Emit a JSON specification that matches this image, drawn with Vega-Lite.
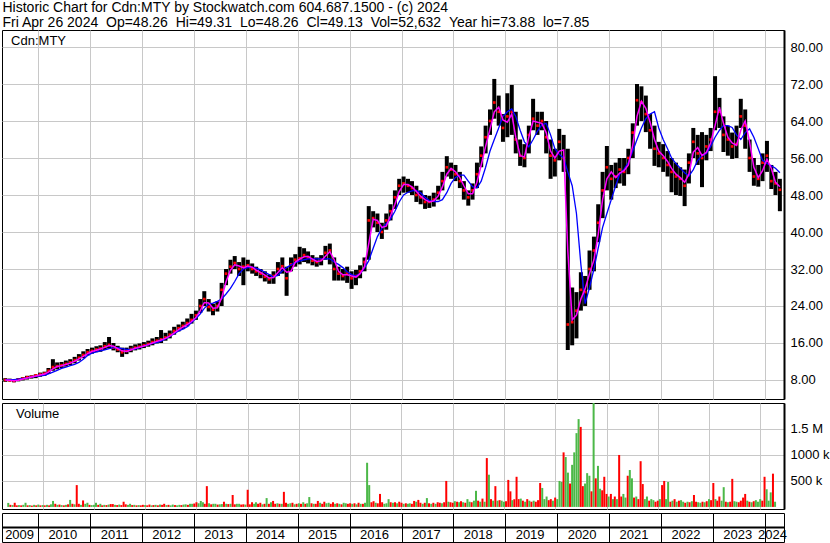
{
"$schema":"https://vega.github.io/schema/vega-lite/v6.json",
"padding":0,
"background":"white",
"config":{"font":"Liberation Sans","view":{"stroke":"black","strokeWidth":1},"axis":{"labelFont":"Liberation Sans"},"axisX":{"minExtent":0,"maxExtent":0}},
"title":{"text":["Historic Chart for Cdn:MTY by Stockwatch.com 604.687.1500 - (c) 2024","Fri Apr 26 2024 \u00a0Op=48.26 \u00a0Hi=49.31 \u00a0Lo=48.26 \u00a0Cl=49.13 \u00a0Vol=52,632 \u00a0Year hi=73.88 \u00a0lo=7.85"],"anchor":"start","frame":"bounds","fontSize":14,"fontWeight":"normal","lineHeight":15,"offset":0,"color":"black","dx":2},
"spacing":2,
"datasets":{
"px":[
{"d":"2009-05-15","h":8.4,"l":7.6,"c":8.0,"m":8.0,"b":8.1},
{"d":"2009-06-15","h":8.3,"l":7.7,"c":7.9,"m":7.95,"b":8.1},
{"d":"2009-07-15","h":8.2,"l":7.5,"c":7.8,"m":7.85,"b":8.1},
{"d":"2009-08-15","h":8.4,"l":7.7,"c":8.1,"m":7.95,"b":8.2},
{"d":"2009-09-15","h":8.6,"l":7.9,"c":8.3,"m":8.2,"b":8.3},
{"d":"2009-10-15","h":8.9,"l":8.1,"c":8.6,"m":8.45,"b":8.4},
{"d":"2009-11-15","h":9.0,"l":8.3,"c":8.7,"m":8.65,"b":8.6},
{"d":"2009-12-15","h":9.2,"l":8.4,"c":9.0,"m":8.85,"b":8.8},
{"d":"2010-01-15","h":9.6,"l":8.7,"c":9.2,"m":9.1,"b":8.9},
{"d":"2010-02-15","h":9.8,"l":8.9,"c":9.4,"m":9.3,"b":9.0},
{"d":"2010-03-15","h":10.6,"l":9.3,"c":10.0,"m":9.7,"b":9.3},
{"d":"2010-04-15","h":12.5,"l":10.0,"c":10.8,"m":10.4,"b":9.7},
{"d":"2010-05-15","h":11.8,"l":10.3,"c":11.0,"m":10.9,"b":10.1},
{"d":"2010-06-15","h":11.9,"l":10.6,"c":11.2,"m":11.1,"b":10.5},
{"d":"2010-07-15","h":12.2,"l":10.9,"c":11.5,"m":11.35,"b":10.8},
{"d":"2010-08-15","h":12.5,"l":11.2,"c":11.8,"m":11.65,"b":11.1},
{"d":"2010-09-15","h":13.0,"l":11.6,"c":12.3,"m":12.05,"b":11.4},
{"d":"2010-10-15","h":13.6,"l":12.2,"c":12.8,"m":12.55,"b":11.8},
{"d":"2010-11-15","h":14.2,"l":12.7,"c":13.4,"m":13.1,"b":12.5},
{"d":"2010-12-15","h":14.7,"l":13.3,"c":14.0,"m":13.7,"b":13.3},
{"d":"2011-01-15","h":15.0,"l":13.7,"c":14.3,"m":14.15,"b":13.8},
{"d":"2011-02-15","h":15.3,"l":14.0,"c":14.6,"m":14.45,"b":14.1},
{"d":"2011-03-15","h":15.5,"l":14.1,"c":14.8,"m":14.7,"b":14.3},
{"d":"2011-04-15","h":16.2,"l":14.5,"c":15.3,"m":15.05,"b":14.5},
{"d":"2011-05-15","h":17.3,"l":14.8,"c":15.6,"m":15.45,"b":14.8},
{"d":"2011-06-15","h":16.0,"l":14.4,"c":15.0,"m":15.3,"b":15.0},
{"d":"2011-07-15","h":15.4,"l":14.0,"c":14.6,"m":14.8,"b":15.0},
{"d":"2011-08-15","h":15.0,"l":13.0,"c":14.0,"m":14.3,"b":14.8},
{"d":"2011-09-15","h":15.0,"l":13.6,"c":14.3,"m":14.15,"b":14.6},
{"d":"2011-10-15","h":15.4,"l":14.0,"c":14.7,"m":14.5,"b":14.6},
{"d":"2011-11-15","h":15.7,"l":14.4,"c":15.0,"m":14.85,"b":14.7},
{"d":"2011-12-15","h":15.9,"l":14.6,"c":15.2,"m":15.1,"b":15.0},
{"d":"2012-01-15","h":16.2,"l":14.9,"c":15.5,"m":15.35,"b":15.3},
{"d":"2012-02-15","h":16.5,"l":15.2,"c":15.8,"m":15.65,"b":15.6},
{"d":"2012-03-15","h":17.0,"l":15.5,"c":16.2,"m":16.0,"b":15.9},
{"d":"2012-04-15","h":17.3,"l":15.9,"c":16.5,"m":16.35,"b":16.1},
{"d":"2012-05-15","h":18.8,"l":16.0,"c":16.8,"m":16.65,"b":16.4},
{"d":"2012-06-15","h":18.2,"l":16.5,"c":17.2,"m":17.0,"b":16.9},
{"d":"2012-07-15","h":18.7,"l":17.0,"c":17.8,"m":17.5,"b":17.4},
{"d":"2012-08-15","h":19.5,"l":17.8,"c":18.6,"m":18.2,"b":18.0},
{"d":"2012-09-15","h":20.0,"l":18.5,"c":19.2,"m":18.9,"b":18.6},
{"d":"2012-10-15","h":20.6,"l":19.0,"c":19.7,"m":19.45,"b":19.0},
{"d":"2012-11-15","h":21.3,"l":19.6,"c":20.3,"m":20.0,"b":19.5},
{"d":"2012-12-15","h":22.3,"l":20.2,"c":21.0,"m":20.65,"b":20.4},
{"d":"2013-01-15","h":23.0,"l":21.0,"c":22.0,"m":21.5,"b":21.3},
{"d":"2013-02-15","h":25.5,"l":22.5,"c":24.0,"m":23.0,"b":22.3},
{"d":"2013-03-15","h":27.2,"l":24.0,"c":25.5,"m":24.75,"b":23.5},
{"d":"2013-04-15","h":25.5,"l":22.8,"c":23.8,"m":24.65,"b":24.4},
{"d":"2013-05-15","h":24.5,"l":22.0,"c":23.2,"m":23.5,"b":24.6},
{"d":"2013-06-15","h":25.0,"l":22.8,"c":24.0,"m":23.6,"b":25.0},
{"d":"2013-07-15","h":29.0,"l":24.0,"c":27.5,"m":25.75,"b":25.5},
{"d":"2013-08-15","h":32.0,"l":28.5,"c":31.0,"m":29.25,"b":26.6},
{"d":"2013-09-15","h":34.0,"l":31.0,"c":32.5,"m":31.75,"b":27.8},
{"d":"2013-10-15","h":34.8,"l":32.0,"c":33.3,"m":32.9,"b":29.3},
{"d":"2013-11-15","h":33.5,"l":30.5,"c":32.0,"m":32.65,"b":31.0},
{"d":"2013-12-15","h":34.5,"l":28.5,"c":32.5,"m":32.25,"b":32.0},
{"d":"2014-01-15","h":34.0,"l":31.5,"c":32.8,"m":32.65,"b":32.3},
{"d":"2014-02-15","h":33.2,"l":31.0,"c":32.0,"m":32.4,"b":32.4},
{"d":"2014-03-15","h":32.5,"l":30.5,"c":31.5,"m":31.75,"b":32.2},
{"d":"2014-04-15","h":32.0,"l":30.0,"c":31.0,"m":31.25,"b":31.8},
{"d":"2014-05-15","h":31.5,"l":29.3,"c":30.3,"m":30.65,"b":31.3},
{"d":"2014-06-15","h":30.8,"l":28.8,"c":29.8,"m":30.05,"b":30.8},
{"d":"2014-07-15","h":31.5,"l":28.8,"c":30.5,"m":30.15,"b":30.3},
{"d":"2014-08-15","h":33.5,"l":30.5,"c":32.0,"m":31.25,"b":30.6},
{"d":"2014-09-15","h":34.5,"l":31.0,"c":32.6,"m":32.3,"b":31.6},
{"d":"2014-10-15","h":32.5,"l":26.2,"c":30.0,"m":31.3,"b":32.3},
{"d":"2014-11-15","h":34.5,"l":31.5,"c":33.0,"m":31.5,"b":32.9},
{"d":"2014-12-15","h":35.2,"l":32.5,"c":34.0,"m":33.5,"b":33.4},
{"d":"2015-01-15","h":36.8,"l":33.0,"c":34.3,"m":34.15,"b":33.7},
{"d":"2015-02-15","h":36.5,"l":33.5,"c":35.0,"m":34.65,"b":34.0},
{"d":"2015-03-15","h":35.8,"l":33.2,"c":34.5,"m":34.75,"b":34.2},
{"d":"2015-04-15","h":35.0,"l":32.8,"c":33.8,"m":34.15,"b":34.2},
{"d":"2015-05-15","h":34.5,"l":32.5,"c":33.5,"m":33.65,"b":34.2},
{"d":"2015-06-15","h":35.0,"l":32.8,"c":34.0,"m":33.75,"b":34.2},
{"d":"2015-07-15","h":37.0,"l":34.0,"c":35.5,"m":34.75,"b":34.2},
{"d":"2015-08-15","h":37.5,"l":33.0,"c":36.0,"m":35.75,"b":34.2},
{"d":"2015-09-15","h":34.5,"l":29.5,"c":32.0,"m":34.0,"b":33.5},
{"d":"2015-10-15","h":32.5,"l":29.5,"c":31.0,"m":31.5,"b":33.0},
{"d":"2015-11-15","h":32.0,"l":29.5,"c":30.5,"m":30.75,"b":32.3},
{"d":"2015-12-15","h":32.5,"l":29.0,"c":31.0,"m":30.75,"b":31.4},
{"d":"2016-01-15","h":31.5,"l":27.7,"c":30.0,"m":30.5,"b":30.8},
{"d":"2016-02-15","h":31.8,"l":28.5,"c":30.5,"m":30.25,"b":30.5},
{"d":"2016-03-15","h":32.8,"l":30.0,"c":31.5,"m":31.0,"b":31.0},
{"d":"2016-04-15","h":34.5,"l":31.5,"c":33.5,"m":32.5,"b":32.2},
{"d":"2016-05-15","h":45.6,"l":34.0,"c":42.5,"m":37.5,"b":33.8},
{"d":"2016-06-15","h":44.5,"l":41.0,"c":43.0,"m":42.75,"b":36.5},
{"d":"2016-07-15","h":44.0,"l":40.0,"c":42.0,"m":42.5,"b":39.0},
{"d":"2016-08-15","h":42.0,"l":38.5,"c":40.0,"m":41.0,"b":40.8},
{"d":"2016-09-15","h":44.0,"l":40.5,"c":42.5,"m":41.25,"b":41.8},
{"d":"2016-10-15","h":46.0,"l":42.5,"c":44.5,"m":43.5,"b":42.8},
{"d":"2016-11-15","h":49.0,"l":45.0,"c":47.5,"m":46.0,"b":44.5},
{"d":"2016-12-15","h":51.5,"l":48.0,"c":50.0,"m":48.75,"b":46.5},
{"d":"2017-01-15","h":52.0,"l":48.5,"c":50.5,"m":50.25,"b":48.0},
{"d":"2017-02-15","h":51.5,"l":48.5,"c":50.0,"m":50.25,"b":48.6},
{"d":"2017-03-15","h":51.0,"l":48.0,"c":49.5,"m":49.75,"b":48.9},
{"d":"2017-04-15","h":50.0,"l":46.5,"c":48.0,"m":48.75,"b":49.0},
{"d":"2017-05-15","h":49.0,"l":46.0,"c":47.5,"m":47.75,"b":48.5},
{"d":"2017-06-15","h":48.0,"l":45.0,"c":46.5,"m":47.0,"b":47.5},
{"d":"2017-07-15","h":47.8,"l":45.2,"c":46.5,"m":46.5,"b":46.8},
{"d":"2017-08-15","h":48.5,"l":45.5,"c":47.0,"m":46.75,"b":46.6},
{"d":"2017-09-15","h":50.0,"l":47.0,"c":48.5,"m":47.75,"b":46.6},
{"d":"2017-10-15","h":53.0,"l":49.0,"c":51.0,"m":49.75,"b":47.0},
{"d":"2017-11-15","h":56.4,"l":52.0,"c":54.0,"m":52.5,"b":48.5},
{"d":"2017-12-15","h":55.0,"l":51.5,"c":53.5,"m":53.75,"b":50.5},
{"d":"2018-01-15","h":54.5,"l":51.0,"c":52.5,"m":53.0,"b":51.8},
{"d":"2018-02-15","h":53.0,"l":49.5,"c":51.0,"m":51.75,"b":52.3},
{"d":"2018-03-15","h":51.0,"l":47.0,"c":49.0,"m":50.0,"b":52.3},
{"d":"2018-04-15","h":49.0,"l":45.7,"c":47.5,"m":48.25,"b":51.0},
{"d":"2018-05-15","h":50.5,"l":47.0,"c":49.0,"m":48.25,"b":49.8},
{"d":"2018-06-15","h":55.0,"l":49.5,"c":52.5,"m":50.75,"b":49.5},
{"d":"2018-07-15","h":58.5,"l":54.0,"c":56.5,"m":54.5,"b":51.0},
{"d":"2018-08-15","h":63.0,"l":57.0,"c":60.5,"m":58.5,"b":54.0},
{"d":"2018-09-15","h":66.5,"l":61.0,"c":64.0,"m":62.25,"b":57.5},
{"d":"2018-10-15","h":73.1,"l":64.5,"c":68.0,"m":66.0,"b":60.0},
{"d":"2018-11-15","h":69.5,"l":63.0,"c":66.0,"m":67.0,"b":62.5},
{"d":"2018-12-15","h":65.5,"l":59.5,"c":62.5,"m":64.25,"b":65.0},
{"d":"2019-01-15","h":70.0,"l":60.5,"c":65.0,"m":63.75,"b":66.0},
{"d":"2019-02-15","h":71.8,"l":61.0,"c":66.0,"m":65.5,"b":66.6},
{"d":"2019-03-15","h":66.0,"l":57.0,"c":60.0,"m":60.5,"b":65.0},
{"d":"2019-04-15","h":60.0,"l":54.3,"c":56.5,"m":56.5,"b":62.0},
{"d":"2019-05-15","h":59.0,"l":54.0,"c":56.0,"m":56.25,"b":59.5},
{"d":"2019-06-15","h":63.0,"l":57.0,"c":61.0,"m":60.5,"b":58.4},
{"d":"2019-07-15","h":68.8,"l":62.0,"c":64.5,"m":64.0,"b":60.0},
{"d":"2019-08-15","h":66.0,"l":61.0,"c":63.0,"m":63.75,"b":61.8},
{"d":"2019-09-15","h":66.0,"l":62.0,"c":64.0,"m":63.5,"b":63.2},
{"d":"2019-10-15","h":64.0,"l":57.0,"c":60.5,"m":61.5,"b":63.5},
{"d":"2019-11-15","h":60.0,"l":51.5,"c":56.5,"m":57.5,"b":61.0},
{"d":"2019-12-15","h":58.0,"l":52.0,"c":55.5,"m":56.0,"b":58.0},
{"d":"2020-01-15","h":62.3,"l":55.5,"c":59.5,"m":57.5,"b":56.8},
{"d":"2020-02-15","h":61.0,"l":53.0,"c":56.0,"m":57.75,"b":56.0},
{"d":"2020-03-15","h":58.0,"l":14.5,"c":20.0,"m":36.0,"b":53.0},
{"d":"2020-04-15","h":28.0,"l":15.5,"c":20.5,"m":21.0,"b":50.0},
{"d":"2020-05-15","h":27.0,"l":17.0,"c":23.0,"m":22.0,"b":44.0},
{"d":"2020-06-15","h":31.3,"l":23.0,"c":27.5,"m":25.5,"b":33.0},
{"d":"2020-07-15","h":30.5,"l":24.0,"c":27.0,"m":27.7,"b":24.5},
{"d":"2020-08-15","h":36.0,"l":27.5,"c":32.0,"m":31.0,"b":28.0},
{"d":"2020-09-15","h":39.0,"l":31.5,"c":36.0,"m":34.0,"b":32.0},
{"d":"2020-10-15","h":46.0,"l":37.8,"c":42.0,"m":39.5,"b":36.5},
{"d":"2020-11-15","h":53.0,"l":43.0,"c":49.0,"m":47.0,"b":41.0},
{"d":"2020-12-15","h":58.6,"l":49.0,"c":54.0,"m":51.5,"b":44.0},
{"d":"2021-01-15","h":54.5,"l":47.0,"c":51.5,"m":53.0,"b":47.0},
{"d":"2021-02-15","h":55.0,"l":49.5,"c":52.0,"m":51.75,"b":50.0},
{"d":"2021-03-15","h":56.0,"l":50.5,"c":53.5,"m":52.75,"b":52.5},
{"d":"2021-04-15","h":56.0,"l":50.0,"c":53.0,"m":53.25,"b":53.6},
{"d":"2021-05-15","h":58.0,"l":52.5,"c":56.0,"m":54.5,"b":55.0},
{"d":"2021-06-15","h":63.5,"l":56.0,"c":61.5,"m":58.75,"b":57.5},
{"d":"2021-07-15","h":72.0,"l":63.0,"c":68.5,"m":65.0,"b":60.0},
{"d":"2021-08-15","h":71.5,"l":64.0,"c":68.0,"m":68.25,"b":62.5},
{"d":"2021-09-15","h":69.5,"l":61.6,"c":65.5,"m":66.75,"b":64.5},
{"d":"2021-10-15","h":65.5,"l":58.0,"c":62.0,"m":63.75,"b":65.5},
{"d":"2021-11-15","h":63.0,"l":54.3,"c":58.0,"m":60.0,"b":66.0},
{"d":"2021-12-15","h":59.5,"l":54.0,"c":57.0,"m":57.5,"b":62.5},
{"d":"2022-01-15","h":59.0,"l":53.0,"c":56.0,"m":56.5,"b":60.0},
{"d":"2022-02-15","h":57.5,"l":52.0,"c":54.5,"m":55.25,"b":58.0},
{"d":"2022-03-15","h":56.0,"l":48.6,"c":53.0,"m":53.75,"b":56.0},
{"d":"2022-04-15","h":55.0,"l":48.0,"c":52.0,"m":52.5,"b":54.8},
{"d":"2022-05-15","h":54.0,"l":47.8,"c":51.5,"m":51.75,"b":53.8},
{"d":"2022-06-15","h":53.5,"l":45.6,"c":50.0,"m":50.75,"b":52.8},
{"d":"2022-07-15","h":57.0,"l":50.5,"c":55.0,"m":52.5,"b":52.1},
{"d":"2022-08-15","h":62.5,"l":56.0,"c":59.5,"m":57.25,"b":53.5},
{"d":"2022-09-15","h":61.0,"l":54.5,"c":57.0,"m":58.25,"b":55.5},
{"d":"2022-10-15","h":61.6,"l":49.7,"c":56.0,"m":56.5,"b":56.5},
{"d":"2022-11-15","h":61.0,"l":55.5,"c":58.5,"m":57.25,"b":57.0},
{"d":"2022-12-15","h":62.5,"l":57.5,"c":60.0,"m":59.25,"b":58.5},
{"d":"2023-01-15","h":73.7,"l":62.0,"c":66.0,"m":63.0,"b":60.5},
{"d":"2023-02-15","h":69.0,"l":62.5,"c":66.0,"m":67.0,"b":62.0},
{"d":"2023-03-15","h":65.0,"l":57.3,"c":61.0,"m":63.5,"b":63.0},
{"d":"2023-04-15","h":63.0,"l":56.5,"c":60.0,"m":60.5,"b":63.0},
{"d":"2023-05-15","h":61.5,"l":55.8,"c":58.5,"m":59.25,"b":62.6},
{"d":"2023-06-15","h":63.0,"l":56.0,"c":59.0,"m":58.75,"b":61.0},
{"d":"2023-07-15","h":68.8,"l":62.5,"c":65.0,"m":62.0,"b":60.0},
{"d":"2023-08-15","h":66.5,"l":58.0,"c":63.0,"m":64.0,"b":61.5},
{"d":"2023-09-15","h":60.0,"l":53.0,"c":56.0,"m":59.5,"b":62.3},
{"d":"2023-10-15","h":56.0,"l":50.0,"c":52.0,"m":54.0,"b":60.5},
{"d":"2023-11-15","h":54.5,"l":49.8,"c":51.5,"m":51.75,"b":58.0},
{"d":"2023-12-15","h":57.0,"l":51.0,"c":55.0,"m":53.25,"b":55.5},
{"d":"2024-01-15","h":59.7,"l":53.0,"c":56.5,"m":55.75,"b":54.8},
{"d":"2024-02-15","h":54.5,"l":49.3,"c":51.0,"m":53.75,"b":54.3},
{"d":"2024-03-15","h":53.0,"l":48.0,"c":50.5,"m":50.75,"b":53.8},
{"d":"2024-04-15","h":51.5,"l":44.5,"c":49.13,"m":49.8,"b":52.8}
],
"vol":[
{"d":"2009-05-01","v":77,"u":"up"},{"d":"2009-05-16","v":40,"u":"dn"},{"d":"2009-06-01","v":35,"u":"up"},{"d":"2009-06-16","v":80,"u":"dn"},
{"d":"2009-07-01","v":30,"u":"dn"},{"d":"2009-07-16","v":35,"u":"up"},{"d":"2009-08-01","v":30,"u":"dn"},{"d":"2009-08-16","v":40,"u":"up"},
{"d":"2009-09-01","v":80,"u":"up"},{"d":"2009-09-16","v":30,"u":"dn"},{"d":"2009-10-01","v":35,"u":"up"},{"d":"2009-10-16","v":25,"u":"dn"},
{"d":"2009-11-01","v":40,"u":"up"},{"d":"2009-11-16","v":30,"u":"dn"},{"d":"2009-12-01","v":45,"u":"up"},{"d":"2009-12-16","v":30,"u":"dn"},
{"d":"2010-01-01","v":35,"u":"up"},{"d":"2010-01-16","v":30,"u":"dn"},{"d":"2010-02-01","v":40,"u":"up"},{"d":"2010-02-16","v":30,"u":"dn"},
{"d":"2010-03-01","v":50,"u":"up"},{"d":"2010-03-16","v":115,"u":"up"},{"d":"2010-04-01","v":60,"u":"dn"},{"d":"2010-04-16","v":40,"u":"up"},
{"d":"2010-05-01","v":45,"u":"dn"},{"d":"2010-05-16","v":35,"u":"up"},{"d":"2010-06-01","v":30,"u":"dn"},{"d":"2010-06-16","v":40,"u":"up"},
{"d":"2010-07-01","v":50,"u":"dn"},{"d":"2010-07-16","v":135,"u":"up"},{"d":"2010-08-01","v":60,"u":"dn"},{"d":"2010-08-16","v":50,"u":"up"},
{"d":"2010-09-01","v":420,"u":"dn"},{"d":"2010-09-16","v":60,"u":"dn"},{"d":"2010-10-01","v":40,"u":"up"},{"d":"2010-10-16","v":125,"u":"dn"},
{"d":"2010-11-01","v":60,"u":"up"},{"d":"2010-11-16","v":80,"u":"up"},{"d":"2010-12-01","v":40,"u":"dn"},{"d":"2010-12-16","v":35,"u":"up"},
{"d":"2011-01-01","v":40,"u":"up"},{"d":"2011-01-16","v":80,"u":"up"},{"d":"2011-02-01","v":40,"u":"dn"},{"d":"2011-02-16","v":60,"u":"up"},
{"d":"2011-03-01","v":30,"u":"dn"},{"d":"2011-03-16","v":40,"u":"up"},{"d":"2011-04-01","v":35,"u":"dn"},{"d":"2011-04-16","v":45,"u":"up"},
{"d":"2011-05-01","v":55,"u":"dn"},{"d":"2011-05-16","v":55,"u":"dn"},{"d":"2011-06-01","v":40,"u":"up"},{"d":"2011-06-16","v":35,"u":"dn"},
{"d":"2011-07-01","v":45,"u":"up"},{"d":"2011-07-16","v":35,"u":"dn"},{"d":"2011-08-01","v":100,"u":"dn"},{"d":"2011-08-16","v":50,"u":"dn"},
{"d":"2011-09-01","v":40,"u":"up"},{"d":"2011-09-16","v":60,"u":"up"},{"d":"2011-10-01","v":35,"u":"dn"},{"d":"2011-10-16","v":40,"u":"up"},
{"d":"2011-11-01","v":30,"u":"dn"},{"d":"2011-11-16","v":35,"u":"up"},{"d":"2011-12-01","v":30,"u":"dn"},{"d":"2011-12-16","v":40,"u":"dn"},
{"d":"2012-01-01","v":35,"u":"up"},{"d":"2012-01-16","v":30,"u":"dn"},{"d":"2012-02-01","v":45,"u":"dn"},{"d":"2012-02-16","v":30,"u":"up"},
{"d":"2012-03-01","v":35,"u":"dn"},{"d":"2012-03-16","v":40,"u":"up"},{"d":"2012-04-01","v":30,"u":"dn"},{"d":"2012-04-16","v":45,"u":"up"},
{"d":"2012-05-01","v":40,"u":"dn"},{"d":"2012-05-16","v":60,"u":"dn"},{"d":"2012-06-01","v":35,"u":"up"},{"d":"2012-06-16","v":40,"u":"dn"},
{"d":"2012-07-01","v":30,"u":"up"},{"d":"2012-07-16","v":45,"u":"up"},{"d":"2012-08-01","v":35,"u":"dn"},{"d":"2012-08-16","v":30,"u":"up"},
{"d":"2012-09-01","v":40,"u":"up"},{"d":"2012-09-16","v":35,"u":"dn"},{"d":"2012-10-01","v":45,"u":"up"},{"d":"2012-10-16","v":50,"u":"up"},
{"d":"2012-11-01","v":40,"u":"dn"},{"d":"2012-11-16","v":60,"u":"up"},{"d":"2012-12-01","v":60,"u":"up"},{"d":"2012-12-16","v":65,"u":"dn"},
{"d":"2013-01-01","v":90,"u":"dn"},{"d":"2013-01-16","v":70,"u":"up"},{"d":"2013-02-01","v":115,"u":"up"},{"d":"2013-02-16","v":90,"u":"up"},
{"d":"2013-03-01","v":60,"u":"dn"},{"d":"2013-03-16","v":400,"u":"dn"},{"d":"2013-04-01","v":70,"u":"up"},{"d":"2013-04-16","v":50,"u":"dn"},
{"d":"2013-05-01","v":60,"u":"up"},{"d":"2013-05-16","v":60,"u":"up"},{"d":"2013-06-01","v":45,"u":"dn"},{"d":"2013-06-16","v":50,"u":"up"},
{"d":"2013-07-01","v":55,"u":"up"},{"d":"2013-07-16","v":100,"u":"dn"},{"d":"2013-08-01","v":60,"u":"up"},{"d":"2013-08-16","v":55,"u":"dn"},
{"d":"2013-09-01","v":60,"u":"up"},{"d":"2013-09-16","v":230,"u":"dn"},{"d":"2013-10-01","v":50,"u":"dn"},{"d":"2013-10-16","v":60,"u":"up"},
{"d":"2013-11-01","v":60,"u":"up"},{"d":"2013-11-16","v":45,"u":"dn"},{"d":"2013-12-01","v":50,"u":"dn"},{"d":"2013-12-16","v":45,"u":"up"},
{"d":"2014-01-01","v":330,"u":"dn"},{"d":"2014-01-16","v":50,"u":"dn"},{"d":"2014-02-01","v":90,"u":"dn"},{"d":"2014-02-16","v":60,"u":"up"},
{"d":"2014-03-01","v":90,"u":"up"},{"d":"2014-03-16","v":60,"u":"dn"},{"d":"2014-04-01","v":80,"u":"dn"},{"d":"2014-04-16","v":50,"u":"up"},
{"d":"2014-05-01","v":60,"u":"dn"},{"d":"2014-05-16","v":170,"u":"up"},{"d":"2014-06-01","v":60,"u":"dn"},{"d":"2014-06-16","v":90,"u":"up"},
{"d":"2014-07-01","v":115,"u":"dn"},{"d":"2014-07-16","v":60,"u":"dn"},{"d":"2014-08-01","v":70,"u":"up"},{"d":"2014-08-16","v":60,"u":"dn"},
{"d":"2014-09-01","v":60,"u":"up"},{"d":"2014-09-16","v":290,"u":"dn"},{"d":"2014-10-01","v":80,"u":"dn"},{"d":"2014-10-16","v":60,"u":"up"},
{"d":"2014-11-01","v":70,"u":"up"},{"d":"2014-11-16","v":80,"u":"dn"},{"d":"2014-12-01","v":50,"u":"up"},{"d":"2014-12-16","v":60,"u":"dn"},
{"d":"2015-01-01","v":70,"u":"up"},{"d":"2015-01-16","v":60,"u":"dn"},{"d":"2015-02-01","v":90,"u":"up"},{"d":"2015-02-16","v":60,"u":"dn"},
{"d":"2015-03-01","v":70,"u":"up"},{"d":"2015-03-16","v":190,"u":"up"},{"d":"2015-04-01","v":70,"u":"dn"},{"d":"2015-04-16","v":60,"u":"up"},
{"d":"2015-05-01","v":60,"u":"dn"},{"d":"2015-05-16","v":115,"u":"dn"},{"d":"2015-06-01","v":80,"u":"up"},{"d":"2015-06-16","v":60,"u":"dn"},
{"d":"2015-07-01","v":100,"u":"dn"},{"d":"2015-07-16","v":70,"u":"up"},{"d":"2015-08-01","v":80,"u":"up"},{"d":"2015-08-16","v":60,"u":"dn"},
{"d":"2015-09-01","v":90,"u":"dn"},{"d":"2015-09-16","v":60,"u":"up"},{"d":"2015-10-01","v":70,"u":"dn"},{"d":"2015-10-16","v":60,"u":"up"},
{"d":"2015-11-01","v":50,"u":"dn"},{"d":"2015-11-16","v":80,"u":"up"},{"d":"2015-12-01","v":70,"u":"up"},{"d":"2015-12-16","v":60,"u":"dn"},
{"d":"2016-01-01","v":70,"u":"dn"},{"d":"2016-01-16","v":60,"u":"up"},{"d":"2016-02-01","v":70,"u":"dn"},{"d":"2016-02-16","v":50,"u":"up"},
{"d":"2016-03-01","v":80,"u":"dn"},{"d":"2016-03-16","v":60,"u":"up"},{"d":"2016-04-01","v":60,"u":"dn"},{"d":"2016-04-16","v":80,"u":"up"},
{"d":"2016-05-01","v":850,"u":"up"},{"d":"2016-05-16","v":420,"u":"up"},{"d":"2016-06-01","v":90,"u":"dn"},{"d":"2016-06-16","v":110,"u":"dn"},
{"d":"2016-07-01","v":80,"u":"up"},{"d":"2016-07-16","v":70,"u":"dn"},{"d":"2016-08-01","v":250,"u":"dn"},{"d":"2016-08-16","v":90,"u":"dn"},
{"d":"2016-09-01","v":60,"u":"up"},{"d":"2016-09-16","v":70,"u":"up"},{"d":"2016-10-01","v":150,"u":"up"},{"d":"2016-10-16","v":90,"u":"dn"},
{"d":"2016-11-01","v":80,"u":"up"},{"d":"2016-11-16","v":90,"u":"dn"},{"d":"2016-12-01","v":70,"u":"up"},{"d":"2016-12-16","v":100,"u":"dn"},
{"d":"2017-01-01","v":80,"u":"dn"},{"d":"2017-01-16","v":60,"u":"up"},{"d":"2017-02-01","v":70,"u":"dn"},{"d":"2017-02-16","v":60,"u":"up"},
{"d":"2017-03-01","v":70,"u":"up"},{"d":"2017-03-16","v":60,"u":"dn"},{"d":"2017-04-01","v":115,"u":"dn"},{"d":"2017-04-16","v":100,"u":"up"},
{"d":"2017-05-01","v":135,"u":"dn"},{"d":"2017-05-16","v":80,"u":"dn"},{"d":"2017-06-01","v":60,"u":"up"},{"d":"2017-06-16","v":80,"u":"dn"},
{"d":"2017-07-01","v":170,"u":"up"},{"d":"2017-07-16","v":70,"u":"dn"},{"d":"2017-08-01","v":60,"u":"up"},{"d":"2017-08-16","v":80,"u":"dn"},
{"d":"2017-09-01","v":60,"u":"up"},{"d":"2017-09-16","v":90,"u":"dn"},{"d":"2017-10-01","v":80,"u":"dn"},{"d":"2017-10-16","v":70,"u":"up"},
{"d":"2017-11-01","v":90,"u":"dn"},{"d":"2017-11-16","v":500,"u":"dn"},{"d":"2017-12-01","v":100,"u":"up"},{"d":"2017-12-16","v":90,"u":"dn"},
{"d":"2018-01-01","v":80,"u":"dn"},{"d":"2018-01-16","v":110,"u":"up"},{"d":"2018-02-01","v":100,"u":"dn"},{"d":"2018-02-16","v":90,"u":"up"},
{"d":"2018-03-01","v":110,"u":"dn"},{"d":"2018-03-16","v":90,"u":"up"},{"d":"2018-04-01","v":80,"u":"dn"},{"d":"2018-04-16","v":150,"u":"up"},
{"d":"2018-05-01","v":100,"u":"up"},{"d":"2018-05-16","v":90,"u":"dn"},{"d":"2018-06-01","v":120,"u":"up"},{"d":"2018-06-16","v":310,"u":"up"},
{"d":"2018-07-01","v":120,"u":"dn"},{"d":"2018-07-16","v":100,"u":"up"},{"d":"2018-08-01","v":160,"u":"dn"},{"d":"2018-08-16","v":100,"u":"up"},
{"d":"2018-09-01","v":940,"u":"dn"},{"d":"2018-09-16","v":620,"u":"up"},{"d":"2018-10-01","v":150,"u":"dn"},{"d":"2018-10-16","v":120,"u":"up"},
{"d":"2018-11-01","v":400,"u":"dn"},{"d":"2018-11-16","v":120,"u":"up"},{"d":"2018-12-01","v":130,"u":"dn"},{"d":"2018-12-16","v":120,"u":"up"},
{"d":"2019-01-01","v":100,"u":"up"},{"d":"2019-01-16","v":110,"u":"dn"},{"d":"2019-02-01","v":520,"u":"dn"},{"d":"2019-02-16","v":300,"u":"dn"},
{"d":"2019-03-01","v":130,"u":"up"},{"d":"2019-03-16","v":150,"u":"dn"},{"d":"2019-04-01","v":580,"u":"dn"},{"d":"2019-04-16","v":150,"u":"dn"},
{"d":"2019-05-01","v":160,"u":"up"},{"d":"2019-05-16","v":120,"u":"dn"},{"d":"2019-06-01","v":100,"u":"up"},{"d":"2019-06-16","v":150,"u":"dn"},
{"d":"2019-07-01","v":120,"u":"up"},{"d":"2019-07-16","v":100,"u":"dn"},{"d":"2019-08-01","v":120,"u":"up"},{"d":"2019-08-16","v":100,"u":"dn"},
{"d":"2019-09-01","v":130,"u":"dn"},{"d":"2019-09-16","v":460,"u":"dn"},{"d":"2019-10-01","v":365,"u":"up"},{"d":"2019-10-16","v":150,"u":"up"},
{"d":"2019-11-01","v":200,"u":"up"},{"d":"2019-11-16","v":130,"u":"dn"},{"d":"2019-12-01","v":150,"u":"dn"},{"d":"2019-12-16","v":120,"u":"up"},
{"d":"2020-01-01","v":180,"u":"dn"},{"d":"2020-01-16","v":150,"u":"up"},{"d":"2020-02-01","v":500,"u":"up"},{"d":"2020-02-16","v":480,"u":"up"},
{"d":"2020-03-01","v":1050,"u":"dn"},{"d":"2020-03-16","v":960,"u":"up"},{"d":"2020-04-01","v":660,"u":"up"},{"d":"2020-04-16","v":450,"u":"dn"},
{"d":"2020-05-01","v":810,"u":"up"},{"d":"2020-05-16","v":1050,"u":"up"},{"d":"2020-06-01","v":1420,"u":"up"},{"d":"2020-06-16","v":1690,"u":"up"},
{"d":"2020-07-01","v":1540,"u":"dn"},{"d":"2020-07-16","v":400,"u":"dn"},{"d":"2020-08-01","v":450,"u":"up"},{"d":"2020-08-16","v":650,"u":"up"},
{"d":"2020-09-01","v":600,"u":"up"},{"d":"2020-09-16","v":300,"u":"dn"},{"d":"2020-10-01","v":2000,"u":"up"},{"d":"2020-10-16","v":550,"u":"dn"},
{"d":"2020-11-01","v":790,"u":"up"},{"d":"2020-11-16","v":350,"u":"up"},{"d":"2020-12-01","v":320,"u":"dn"},{"d":"2020-12-16","v":580,"u":"dn"},
{"d":"2021-01-01","v":250,"u":"dn"},{"d":"2021-01-16","v":200,"u":"up"},{"d":"2021-02-01","v":250,"u":"dn"},{"d":"2021-02-16","v":150,"u":"up"},
{"d":"2021-03-01","v":200,"u":"dn"},{"d":"2021-03-16","v":150,"u":"up"},{"d":"2021-04-01","v":1000,"u":"dn"},{"d":"2021-04-16","v":200,"u":"dn"},
{"d":"2021-05-01","v":250,"u":"up"},{"d":"2021-05-16","v":180,"u":"up"},{"d":"2021-06-01","v":600,"u":"dn"},{"d":"2021-06-16","v":710,"u":"up"},
{"d":"2021-07-01","v":550,"u":"up"},{"d":"2021-07-16","v":180,"u":"dn"},{"d":"2021-08-01","v":200,"u":"up"},{"d":"2021-08-16","v":150,"u":"dn"},
{"d":"2021-09-01","v":880,"u":"dn"},{"d":"2021-09-16","v":440,"u":"dn"},{"d":"2021-10-01","v":150,"u":"up"},{"d":"2021-10-16","v":200,"u":"up"},
{"d":"2021-11-01","v":120,"u":"dn"},{"d":"2021-11-16","v":150,"u":"up"},{"d":"2021-12-01","v":130,"u":"up"},{"d":"2021-12-16","v":100,"u":"dn"},
{"d":"2022-01-01","v":120,"u":"dn"},{"d":"2022-01-16","v":150,"u":"up"},{"d":"2022-02-01","v":420,"u":"dn"},{"d":"2022-02-16","v":500,"u":"dn"},
{"d":"2022-03-01","v":150,"u":"up"},{"d":"2022-03-16","v":480,"u":"up"},{"d":"2022-04-01","v":100,"u":"dn"},{"d":"2022-04-16","v":120,"u":"up"},
{"d":"2022-05-01","v":150,"u":"dn"},{"d":"2022-05-16","v":100,"u":"up"},{"d":"2022-06-01","v":120,"u":"dn"},{"d":"2022-06-16","v":130,"u":"up"},
{"d":"2022-07-01","v":100,"u":"up"},{"d":"2022-07-16","v":80,"u":"dn"},{"d":"2022-08-01","v":100,"u":"up"},{"d":"2022-08-16","v":90,"u":"dn"},
{"d":"2022-09-01","v":110,"u":"up"},{"d":"2022-09-16","v":230,"u":"dn"},{"d":"2022-10-01","v":100,"u":"dn"},{"d":"2022-10-16","v":90,"u":"up"},
{"d":"2022-11-01","v":80,"u":"up"},{"d":"2022-11-16","v":100,"u":"dn"},{"d":"2022-12-01","v":90,"u":"up"},{"d":"2022-12-16","v":110,"u":"dn"},
{"d":"2023-01-01","v":150,"u":"up"},{"d":"2023-01-16","v":130,"u":"dn"},{"d":"2023-02-01","v":460,"u":"dn"},{"d":"2023-02-16","v":150,"u":"up"},
{"d":"2023-03-01","v":120,"u":"dn"},{"d":"2023-03-16","v":200,"u":"dn"},{"d":"2023-04-01","v":120,"u":"up"},{"d":"2023-04-16","v":380,"u":"up"},
{"d":"2023-05-01","v":100,"u":"dn"},{"d":"2023-05-16","v":90,"u":"up"},{"d":"2023-06-01","v":100,"u":"dn"},{"d":"2023-06-16","v":540,"u":"dn"},
{"d":"2023-07-01","v":110,"u":"up"},{"d":"2023-07-16","v":100,"u":"up"},{"d":"2023-08-01","v":90,"u":"dn"},{"d":"2023-08-16","v":120,"u":"dn"},
{"d":"2023-09-01","v":180,"u":"dn"},{"d":"2023-09-16","v":250,"u":"dn"},{"d":"2023-10-01","v":120,"u":"up"},{"d":"2023-10-16","v":100,"u":"dn"},
{"d":"2023-11-01","v":90,"u":"up"},{"d":"2023-11-16","v":110,"u":"dn"},{"d":"2023-12-01","v":130,"u":"up"},{"d":"2023-12-16","v":100,"u":"up"},
{"d":"2024-01-01","v":150,"u":"up"},{"d":"2024-01-16","v":120,"u":"dn"},{"d":"2024-02-01","v":580,"u":"dn"},{"d":"2024-02-16","v":340,"u":"up"},
{"d":"2024-03-01","v":120,"u":"up"},{"d":"2024-03-16","v":280,"u":"up"},{"d":"2024-04-01","v":640,"u":"dn"},{"d":"2024-04-16","v":100,"u":"up"}
]
},
"vconcat":[
{
"width":782,"height":369,
"data":{"name":"px"},
"layer":[
{"mark":{"type":"rule","strokeWidth":4,"color":"black","strokeCap":"butt"},
 "encoding":{
  "x":{"field":"d","type":"temporal","title":null,"scale":{"type":"utc","domain":[{"year":2009,"month":4,"date":22,"utc":true},{"year":2024,"month":5,"date":14,"utc":true}]},
       "axis":{"grid":true,"gridColor":"#c8c8c8","gridWidth":1,"labels":false,"ticks":false,"domain":false,"title":null,"tickCount":{"interval":"year","step":1}}},
  "y":{"field":"l","type":"quantitative","title":null,"scale":{"domain":[3.89,83.68],"nice":false,"zero":false},
       "axis":{"orient":"right","values":[8,12,16,20,24,28,32,36,40,44,48,52,56,60,64,68,72,76,80],"format":".2f","grid":true,"gridColor":"#c8c8c8","gridWidth":1,"ticks":false,"domain":true,"domainColor":"black","domainWidth":2,"labelFontSize":13,"labelColor":"black","labelPadding":6,"title":null}},
  "y2":{"field":"h"}}},
{"mark":{"type":"point","shape":"square","filled":true,"size":7,"color":"#ff0000","opacity":1},
 "encoding":{"x":{"field":"d","type":"temporal","title":null},"y":{"field":"c","type":"quantitative","title":null}}},
{"mark":{"type":"line","color":"#0000ff","strokeWidth":1.3},
 "encoding":{"x":{"field":"d","type":"temporal","title":null},"y":{"field":"b","type":"quantitative","title":null}}},
{"mark":{"type":"line","color":"#ff00ff","strokeWidth":1.5},
 "encoding":{"x":{"field":"d","type":"temporal","title":null},"y":{"field":"m","type":"quantitative","title":null}}},
{"data":{"values":[{"t":"Cdn:MTY"}]},
 "mark":{"type":"text","align":"left","baseline":"middle","fontSize":13,"color":"black"},
 "encoding":{"x":{"datum":{"year":2009,"month":6,"date":25,"utc":true},"type":"temporal"},"y":{"datum":81.3,"type":"quantitative"},"text":{"field":"t"}}}
]
},
{
"width":782,"height":106,
"data":{"name":"vol"},
"layer":[
{"mark":{"type":"bar","width":2},
 "encoding":{
  "x":{"field":"d","type":"temporal","title":null,"scale":{"type":"utc","domain":[{"year":2009,"month":4,"date":22,"utc":true},{"year":2024,"month":5,"date":14,"utc":true}]},
       "axis":{"grid":true,"gridColor":"#c8c8c8","gridWidth":1,"labels":false,"ticks":false,"domain":false,"title":null,"tickCount":{"interval":"year","step":1}}},
  "y":{"field":"v","type":"quantitative","title":null,"scale":{"domain":[-40,2000],"nice":false,"zero":false},
       "axis":{"orient":"right","values":[500,1000,1500],"labelExpr":"datum.value == 1500 ? '1.5 M' : datum.value + ' k'","grid":true,"gridColor":"#c8c8c8","gridWidth":1,"ticks":false,"domain":true,"domainColor":"black","domainWidth":2,"labelFontSize":13,"labelColor":"black","labelPadding":6,"title":null}},
  "y2":{"datum":0},
  "color":{"field":"u","type":"nominal","scale":{"domain":["up","dn"],"range":["#4cb848","#ff0000"]},"legend":null}}},
{"data":{"values":[{"t":"Volume"}]},
 "mark":{"type":"text","align":"left","baseline":"middle","fontSize":13,"color":"black"},
 "encoding":{"x":{"datum":{"year":2009,"month":6,"date":25,"utc":true},"type":"temporal"},"y":{"datum":1790,"type":"quantitative"},"text":{"field":"t"}}}
]
},
{
"width":782,"height":29,
"layer":[
{"data":{"name":"vol","format":{"parse":{"d":"date"}}},
 "transform":[{"timeUnit":"utcyear","field":"d","as":"yr"},{"aggregate":[{"op":"mean","field":"d","as":"md"}],"groupby":["yr"]}],
 "mark":{"type":"text","fontSize":13,"baseline":"middle","color":"black"},
 "encoding":{
  "x":{"field":"md","type":"temporal","title":null,"scale":{"type":"utc","domain":[{"year":2009,"month":4,"date":22,"utc":true},{"year":2024,"month":5,"date":14,"utc":true}]},
       "axis":{"grid":true,"gridColor":"black","gridWidth":1,"labels":false,"ticks":false,"domain":false,"title":null,"tickCount":{"interval":"year","step":1}}},
  "y":{"datum":0.5,"type":"quantitative","scale":{"domain":[0,2],"nice":false},"axis":null},
  "text":{"field":"yr","type":"temporal","timeUnit":"utcyear"}}},
{"data":{"values":[{}]},
 "mark":{"type":"rule","strokeWidth":2,"color":"black"},
 "encoding":{"y":{"datum":1,"type":"quantitative"}}}
]
}
]
}
